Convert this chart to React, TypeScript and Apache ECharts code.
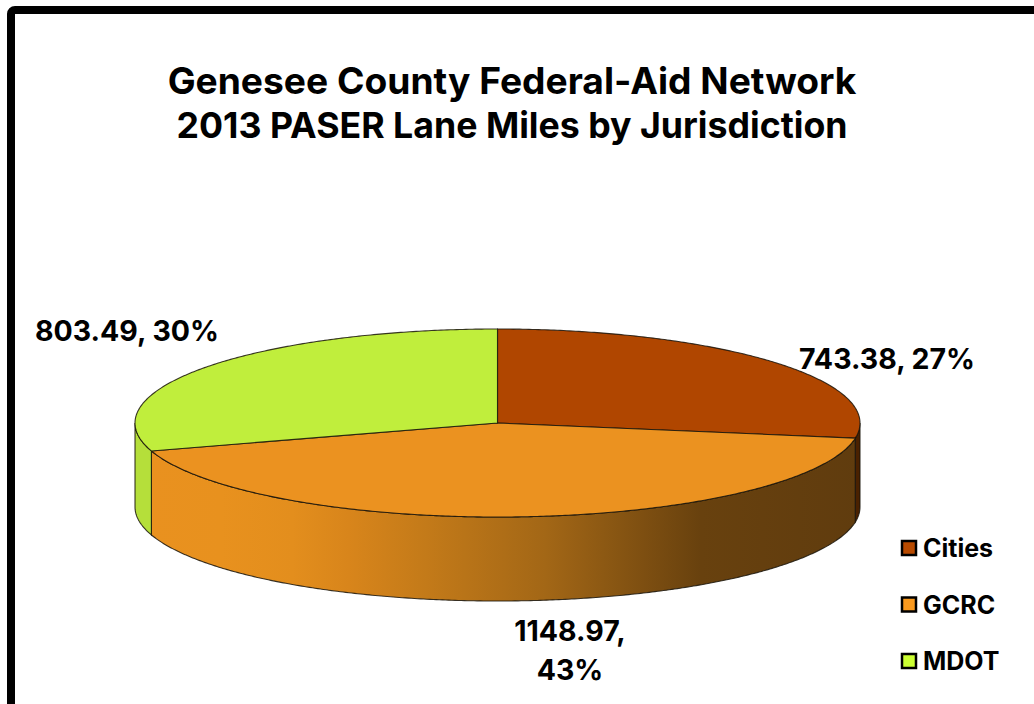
import React, { useEffect, useRef } from "react";
import * as echarts from "echarts";

const titleLines = ["Genesee County Federal-Aid Network", "2013 PASER Lane Miles by Jurisdiction"];
const categories = ["Cities", "GCRC", "MDOT"];
const laneMiles = [743.38, 1148.97, 803.49];
const sharePercent = [27, 43, 30];

const topColors = ["#B04600", "#EB9220", "#C0EE3C"];
const legendColors = ["#B84A00", "#F9991E", "#CCFF33"];
const FONT = "Inter, 'Noto Sans', sans-serif";

// Drawing geometry of the tilted disc
const CX = 497.5;
const CY = 423;
const RX = 362.5;
const RY = 94;
const DEPTH = 84;
const EDGE = "rgba(25,20,10,0.85)";

// Legend layout: swatch size, row height and the gap between rows
const LEGEND_LEFT = 902;
const LEGEND_TOP = 533;
const SWATCH = 14;
const ROW_HEIGHT = 30;
const ROW_GAP = 26.5;

const sideFills: any[] = [
  "#4A2100",
  {
    type: "linear",
    global: true,
    x: 150,
    y: 0,
    x2: 860,
    y2: 0,
    colorStops: [
      { offset: 0, color: "#E9911F" },
      { offset: 0.1, color: "#E8911E" },
      { offset: 0.2, color: "#E38E1D" },
      { offset: 0.28, color: "#D8851B" },
      { offset: 0.39, color: "#C37A19" },
      { offset: 0.556, color: "#A36716" },
      { offset: 0.776, color: "#68410E" },
      { offset: 1, color: "#603C0E" },
    ],
  },
  "#B5DF3A",
];

const labelAnchors = [
  { x: 887, y: 358 },
  { x: 570, y: 649.5 },
  { x: 127, y: 330 },
];

const total = laneMiles.reduce((a, b) => a + b, 0);

const rimPoint = (deg: number, drop = 0): number[] => {
  const t = (deg * Math.PI) / 180;
  return [CX + RX * Math.sin(t), CY - RY * Math.cos(t) + drop];
};

const arcPoints = (from: number, to: number, drop = 0): number[][] => {
  const pts: number[][] = [];
  const steps = Math.max(2, Math.ceil(Math.abs(to - from) * 2));
  for (let i = 0; i <= steps; i++) pts.push(rimPoint(from + ((to - from) * i) / steps, drop));
  return pts;
};

const sliceRenderer = (index: number) => () => {
  const before = laneMiles.slice(0, index).reduce((a, b) => a + b, 0);
  const start = (before / total) * 360;
  const end = ((before + laneMiles[index]) / total) * 360;
  const children: any[] = [];

  // Only the part of the rim facing the viewer gets a wall
  const wallStart = Math.max(start, 90);
  const wallEnd = Math.min(end, 270);
  if (wallEnd > wallStart) {
    children.push({
      type: "polygon",
      shape: {
        points: [...arcPoints(wallStart, wallEnd), ...arcPoints(wallEnd, wallStart, DEPTH)],
      },
      style: { fill: sideFills[index], stroke: EDGE, lineWidth: 1.1 },
    });
  }

  children.push({
    type: "polygon",
    shape: { points: [[CX, CY], ...arcPoints(start, end)] },
    style: { fill: topColors[index], stroke: EDGE, lineWidth: 1.1 },
  });

  const value = laneMiles[index].toFixed(2);
  const share = `${sharePercent[index]}%`;
  const text = index === 1 ? `${value},\n${share}` : `${value}, ${share}`;
  children.push({
    type: "text",
    z2: 10,
    style: {
      text,
      x: labelAnchors[index].x,
      y: labelAnchors[index].y,
      align: "center",
      verticalAlign: "middle",
      fill: "#000",
      fontFamily: FONT,
      fontWeight: 700,
      fontSize: 28.5,
      lineHeight: 39,
    },
  });

  return { type: "group", children };
};

export default function App() {
  const ref = useRef<HTMLDivElement>(null);

  useEffect(() => {
    const chart = echarts.init(ref.current!, undefined, { renderer: "svg" });
    const titleFont = { fontFamily: FONT, fontWeight: 700, color: "#000", lineHeight: 44.5, align: "center" };
    chart.setOption({
      animation: false,
      backgroundColor: "#fff",
      title: {
        text: `{first|${titleLines[0]}}\n{second|${titleLines[1]}}`,
        left: 507,
        top: 53.5,
        textAlign: "center",
        textStyle: {
          fontFamily: FONT,
          fontWeight: 700,
          lineHeight: 44.5,
          color: "#000",
          rich: {
            first: { ...titleFont, fontSize: 37.2 },
            second: { ...titleFont, fontSize: 35.7 },
          },
        },
      },
      legend: {
        orient: "vertical",
        left: LEGEND_LEFT,
        top: LEGEND_TOP,
        padding: 0,
        itemWidth: SWATCH,
        itemHeight: SWATCH,
        itemGap: ROW_GAP,
        selectedMode: false,
        icon: "rect",
        textStyle: {
          fontFamily: FONT,
          fontWeight: 700,
          fontSize: 25,
          color: "#000",
          lineHeight: ROW_HEIGHT,
          padding: [0, 0, 0, 2],
        },
        data: categories.map((name, i) => ({
          name,
          itemStyle: { color: legendColors[i] },
        })),
      },
      graphic: [
        {
          type: "rect",
          shape: { x: 11, y: 10, width: 1100, height: 800, r: 4 },
          style: { fill: "none", stroke: "#000", lineWidth: 8 },
          silent: true,
        },
        // Black frames round the legend swatches
        ...categories.map((_, i) => ({
          type: "rect",
          z: 100,
          silent: true,
          shape: {
            x: LEGEND_LEFT,
            y: LEGEND_TOP + i * (ROW_HEIGHT + ROW_GAP) + (ROW_HEIGHT - SWATCH) / 2,
            width: SWATCH,
            height: SWATCH,
          },
          style: { fill: "none", stroke: "#000", lineWidth: 2.5 },
        })),
      ],
      series: categories.map((name, i) => ({
        type: "custom",
        name,
        coordinateSystem: "none",
        silent: true,
        data: [laneMiles[i]],
        itemStyle: { color: topColors[i] },
        renderItem: sliceRenderer(i),
      })),
    });
    return () => chart.dispose();
  }, []);

  return (
    <div
      ref={ref}
      style={{ position: "absolute", left: 0, top: 0, width: 1034, height: 704 }}
    />
  );
}
